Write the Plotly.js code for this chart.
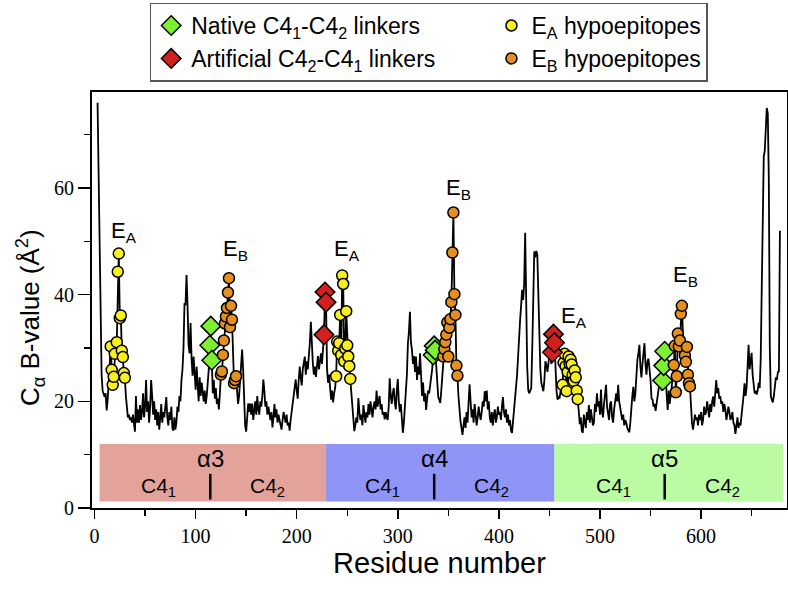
<!DOCTYPE html>
<html><head><meta charset="utf-8">
<script src="https://cdn.plot.ly/plotly-3.0.1.min.js"></script>
<style>html,body{margin:0;padding:0;background:#fff}#chart{width:788px;height:592px}</style>
</head><body><div id="chart"></div>
<script>
// C-alpha B-values, one per residue, starting at residue 3
const firstResidue = 3;
const bFactor = [
76,62,44,31,25,22,21.5,20.8,21.5,18.3,            // 3-12
20.3,24,27,30.3,25.9,23.1,24.6,28.9,30.5,31.1,    // 13-22
44.3,47.7,35.6,36.1,29.5,28.3,25.3,24.4,21,18,    // 23-32
17,17.5,16.5,17,16,17.5,15.5,14.3,21,16,          // 33-42
18.5,16,19.3,16.5,18,21.5,17,19,24,18,            // 43-52
20,16,19,24,21,17.5,20,16.5,18.5,15.5,            // 53-62
18,14.7,17,19.5,16,18,17,19,20.8,17,              // 63-72
15.5,18,16.5,19,15,14.5,17,14.7,16,19,            // 73-82
18,21,20,24,26,30,38.4,38,43.7,38,                // 83-92
30.6,29,34.7,28,24.8,28.4,26,22.2,26.5,23,        // 93-102
20,24.5,21,23.5,21,20,22,19.5,21,23,              // 103-112
26,30.5,34.1,27.7,21.5,24,20.5,22.5,19.5,20.5,    // 113-122
18.5,21.5,25.0,25.6,28.7,31.4,34.6,35.9,37.5,40.4,// 123-132
43.1,33.9,37.9,35.3,30.5,23.4,24.0,24.7,22,19.5,  // 133-142
21,24,27,29.7,26,19,15.5,14.3,17,19.6,            // 143-152
18,19.6,17.5,19.6,16.5,18,20,17.5,21,18.5,        // 153-162
17.5,20,19,21,24.1,22,19,20,17.5,19,              // 163-172
18,16.5,18,15.1,17,19.5,17,18.5,16,17.5,          // 173-182
16.5,15.5,14.7,16.5,18,17,16,17.5,15.5,16,        // 183-192
14.5,16.5,18,19.5,21,22.5,24.1,22,20.5,24,        // 193-202
26.5,24.5,23,26,27,28.4,25,27.5,26,28,            // 203-212
31,34.9,30,27,25,26.5,24.6,27,28.5,26,            // 213-222
27.5,29,27,29.5,32.5,40.5,38.6,26,23.5,25,        // 223-232
22.5,20.3,22,19.8,21.5,22.5,24.7,31.2,29.5,30.9,  // 233-242
36.2,28.7,43.6,42.0,27.5,29.9,36.9,30.5,28.4,26.6,// 243-252
24.2,22,19,17,14.4,15.5,17,16,20.6,18,            // 253-262
16.5,17.5,15.5,19.3,17,16,18,17,19.5,17.5,        // 263-272
20,18,17,19,20,18.5,22,19,20.5,21,                // 273-282
18.5,19.5,17.5,18,16.6,18,17,16.5,19,24.3,        // 283-292
21,19.5,21.5,22.5,20,18.5,22,24.2,20,18,          // 293-302
19.5,16.5,14.1,16,19,21,25,30.9,33,36.8,          // 303-312
31,29.7,27,28.5,25.5,28.4,24,26.5,25,29,          // 313-322
24,21,23.5,20,21.5,18.4,20.5,22,21.5,23,          // 323-332
25,26,28.7,30.4,29.6,27,24,20.8,20.3,19.7,        // 333-342
22,25,28.4,29.8,31.1,32.5,34.8,28.4,33.8,35.4,    // 343-352
38.6,47.9,55.4,40.1,36.2,26.7,24.8,21,18,16.3,    // 353-362
15,13.7,15.5,17,15,18,16,19,23.2,20,              // 363-372
17,18.5,16,19.5,17.5,15.5,17,19,17.5,16.5,        // 373-382
18,20,19,21.9,20,22,18.5,20,17,16,                // 383-392
18,15.5,17.5,18.5,16,17,19,17.5,18,16.5,          // 393-402
19,20.8,18,17,18.5,16,17.5,15.5,16.5,14.5,        // 403-412
14.1,16,18,21,22,25,28.4,33,35.3,38,              // 413-422
40.9,39,42,51.6,36,26.5,22.1,21.5,22,22.5,        // 423-432
30,39,48.1,47,48.2,47.5,38,30.9,26,23.4,          // 433-442
22.5,21.9,24,27.5,26.9,25.5,27,29.7,28,27,        // 443-452
29.2,32.6,31.0,26,22,20.3,21,20.5,22,21.5,        // 453-462
23.1,27.2,28.9,26.6,21.9,25.5,28.4,27.0,27.8,26.9,// 463-472
25.0,23.8,25.8,24.5,22.0,20.4,18.2,15.7,17,14.5,  // 473-482
14.1,17.5,16,15,18,16.5,19.3,16,18.5,17,          // 483-492
15.5,16,19.5,18,21.5,19,20,17.5,22.2,18,          // 493-502
17,19.5,21,23.1,19,17.5,16.5,19.5,20,17,          // 503-512
16,18.5,20,21.5,20,23.1,20,18.5,17,16.5,          // 513-522
17.5,15.5,16.5,16,15,14.5,14.2,16,19.5,21,        // 523-532
22.7,20,21.5,25,27.8,29,30.6,26.5,24.5,27,        // 533-542
29,30.9,27,25,27.5,28,26,24,20.5,20.3,            // 543-552
19,19.5,18.2,20,21.5,22.3,24,25,22,23.9,          // 553-562
26.7,29.4,24,21,18.4,22,19.5,21,23.5,24.5,        // 563-572
26.8,30.4,21.7,24.7,32.7,30.3,31.4,36.4,37.9,33,  // 573-582
29,28.6,27.4,30.2,25.0,23.4,22.8,19,16,14.7,      // 583-592
16,17.5,16.5,17,15.5,17.5,16.5,18,15.5,16.5,      // 593-602
19,17.5,18,20,18.5,17,19.5,18,20,20.9,            // 603-612
19,21.5,24.0,21.5,22.5,20.5,21,19.5,20,18,        // 613-622
19.5,18.5,16.5,17.5,19,18,16.5,17,18,16,          // 623-632
15.5,13.9,15.5,17,15,16,15.5,17,18.5,21,          // 633-642
23.4,21,22.5,27,30.6,26,28,29.1,25,23,            // 643-652
21.5,22,21.3,22,23.5,22.5,28,41,60,65.9,          // 653-662
67,72,75,74,62,30,21,20.3,19.8,21,                // 663-672
23.5,24.5,24,25.5,25.6,52                         // 673-678
];

// Marked residues
const nativeLinkerRes = [114,115,116, 335,336,337, 562,563,564];
const artificialLinkerRes = [227,228,229, 453,454,455];
const epitopeARes = [16,17,18,19,20,22,23,24,25,26,27,28,29,30,
  239,240,241,242,243,244,245,246,247,248,249,250,251,252,253,
  463,464,465,466,467,468,469,470,471,472,473,474,475,476,477,478];
const epitopeBRes = [125,126,127,128,129,130,131,132,133,134,135,136,138,139,140,
  345,346,347,348,349,350,351,352,353,354,355,356,357,358,359,
  573,574,575,576,577,578,579,580,581,584,585,586,587,588,589];

// Domain bar
const domainNames = ['α3','α4','α5'];
const domainStart = [5, 229, 455];
const domainEnd = [229, 455, 681];
const domainSplit = [114.5, 336, 564];
const domainColors = ['#e3a39b','#8e95f6','#bbfba3'];
const subdomainLabels = ['C4<sub>1</sub>','C4<sub>2</sub>'];

// Peak labels
const peakLabels = ['E<sub>A</sub>','E<sub>B</sub>','E<sub>A</sub>','E<sub>B</sub>','E<sub>A</sub>','E<sub>B</sub>'];
const peakLabelRes = [29, 139, 250, 360, 474, 585];
const peakLabelB = [52.5, 49.1, 49.1, 60.6, 36.6, 44.3];

const residues = bFactor.map((_, i) => firstResidue + i);
const bAt = r => bFactor[r - firstResidue];

const sans = 'Liberation Sans, Arial, sans-serif';
const serif = 'Liberation Serif, Times New Roman, serif';
const colPad = '&nbsp;&nbsp;&nbsp;&nbsp;&nbsp;&nbsp;&nbsp;&nbsp;';

const traces = [
  {x: residues, y: bFactor, type: 'scatter', mode: 'lines',
   line: {color: 'black', width: 1.8}, showlegend: false, hoverinfo: 'skip'},
  {x: nativeLinkerRes, y: nativeLinkerRes.map(bAt), type: 'scatter', mode: 'markers',
   name: 'Native C4<sub>1</sub>-C4<sub>2</sub> linkers',
   marker: {symbol: 'diamond', size: 15, color: '#7ef032', line: {color: 'black', width: 1.5}}},
  {x: epitopeARes, y: epitopeARes.map(bAt), type: 'scatter', mode: 'markers',
   name: 'E<sub>A</sub> hypoepitopes',
   marker: {symbol: 'circle', size: 11, color: '#f7ef1f', line: {color: 'black', width: 1.5}}},
  {x: artificialLinkerRes, y: artificialLinkerRes.map(bAt), type: 'scatter', mode: 'markers',
   name: 'Artificial C4<sub>2</sub>-C4<sub>1</sub> linkers' + colPad,
   marker: {symbol: 'diamond', size: 15, color: '#d41f1f', line: {color: 'black', width: 1.5}}},
  {x: epitopeBRes, y: epitopeBRes.map(bAt), type: 'scatter', mode: 'markers',
   name: 'E<sub>B</sub> hypoepitopes',
   marker: {symbol: 'circle', size: 11, color: '#e4901f', line: {color: 'black', width: 1.5}}}
];

const shapes = [];
const annotations = [];
domainNames.forEach((nm, i) => {
  shapes.push({type: 'rect', xref: 'x', yref: 'y', x0: domainStart[i], x1: domainEnd[i],
    y0: 1.2, y1: 12, fillcolor: domainColors[i], line: {width: 0}, layer: 'below'});
  shapes.push({type: 'line', xref: 'x', yref: 'y', x0: domainSplit[i], x1: domainSplit[i],
    y0: 1.6, y1: 6.4, line: {color: 'black', width: 2.5}});
  annotations.push({x: domainSplit[i], y: 9.2, xref: 'x', yref: 'y', text: nm, showarrow: false,
    font: {family: sans, size: 24, color: 'black'}});
  annotations.push({x: domainSplit[i] - 51, y: 3.9, xref: 'x', yref: 'y', text: subdomainLabels[0], showarrow: false,
    font: {family: sans, size: 21, color: 'black'}});
  annotations.push({x: domainSplit[i] + 57, y: 3.9, xref: 'x', yref: 'y', text: subdomainLabels[1], showarrow: false,
    font: {family: sans, size: 21, color: 'black'}});
});
peakLabels.forEach((t, i) => {
  annotations.push({x: peakLabelRes[i], y: peakLabelB[i] - 0.8, xref: 'x', yref: 'y', text: t, showarrow: false,
    yanchor: 'middle', font: {family: sans, size: 22, color: 'black'}});
});
// y-axis title (placed as rotated text to match the reference position)
annotations.push({x: -0.089, y: 0.457, xref: 'paper', yref: 'paper', textangle: -90, showarrow: false,
  text: 'C<sub>α</sub> B-value (Å<sup>2</sup>)', xanchor: 'center', yanchor: 'middle',
  font: {family: sans, size: 26, color: 'black'}});

const layout = {
  width: 788, height: 592,
  margin: {l: 92, r: 1, t: 92, b: 84},
  paper_bgcolor: 'white', plot_bgcolor: 'white',
  showlegend: true,
  legend: {orientation: 'h', x: 0.083, y: 1.215, xanchor: 'left', yanchor: 'top',
    bordercolor: '#555', borderwidth: 1.5, bgcolor: 'white',
    font: {family: sans, size: 23, color: 'black'}},
  xaxis: {range: [-2.5, 685], showgrid: false, zeroline: false,
    showline: true, mirror: true, linecolor: 'black', linewidth: 2,
    ticks: 'outside', ticklen: 9, tickwidth: 1.5, tickcolor: 'black',
    tick0: 0, dtick: 100,
    minor: {dtick: 50, ticks: 'outside', ticklen: 6, tickwidth: 1.5, tickcolor: 'black'},
    tickfont: {family: serif, size: 20, color: 'black'},
    title: {text: 'Residue number', font: {family: sans, size: 29, color: 'black'}, standoff: 7}},
  yaxis: {range: [0, 78], showgrid: false, zeroline: false,
    showline: true, mirror: true, linecolor: 'black', linewidth: 2,
    ticks: 'outside', ticklen: 12, tickwidth: 1.5, tickcolor: 'black',
    tick0: 0, dtick: 20,
    minor: {dtick: 10, ticks: 'outside', ticklen: 6, tickwidth: 1.5, tickcolor: 'black'},
    tickfont: {family: serif, size: 20, color: 'black'}},
  shapes: shapes,
  annotations: annotations
};

Plotly.newPlot('chart', traces, layout, {displayModeBar: false, staticPlot: true});
</script></body></html>
